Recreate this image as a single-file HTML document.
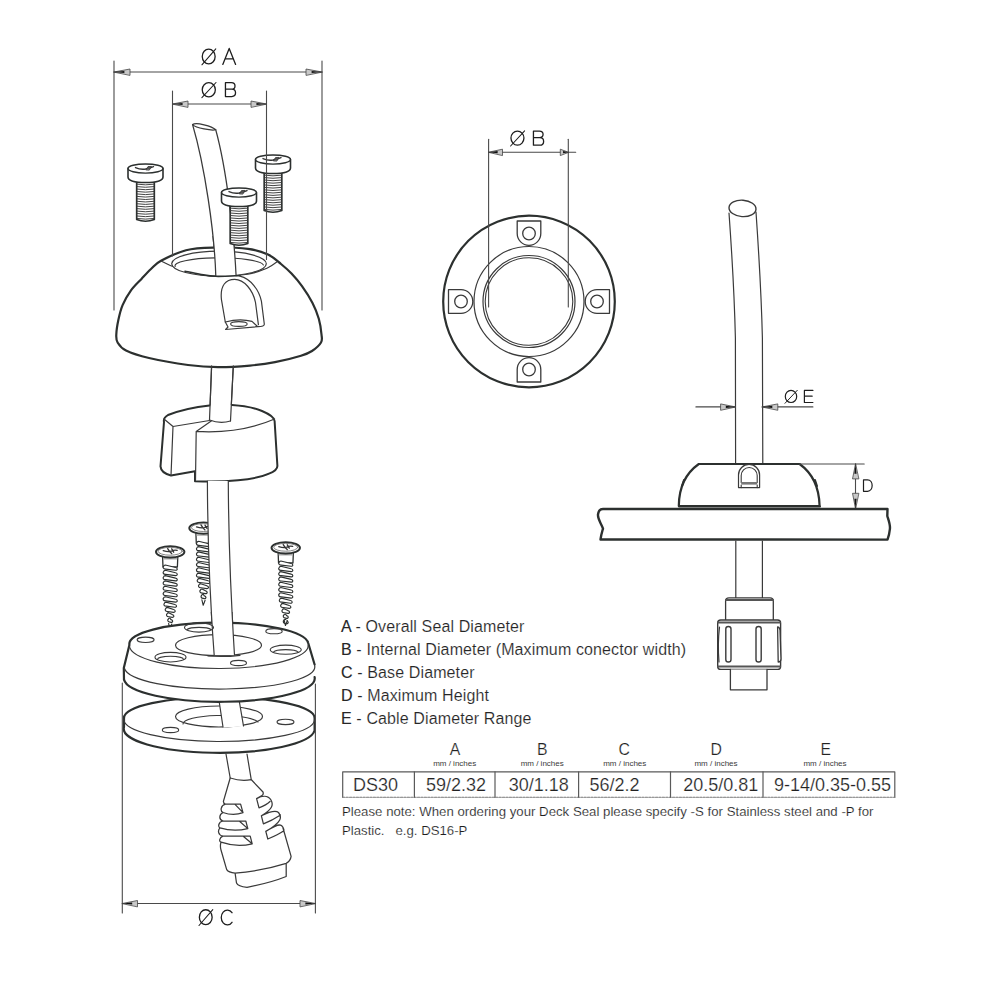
<!DOCTYPE html>
<html><head><meta charset="utf-8"><style>
html,body{margin:0;padding:0;background:#fff;}
svg{display:block;}
text{font-family:"Liberation Sans",sans-serif;}
.lt{stroke:#fff;stroke-width:0.22px;paint-order:normal;}
.lt2{stroke:#fff;stroke-width:0.15px;paint-order:normal;}
</style></head><body>
<svg width="1000" height="1000" viewBox="0 0 1000 1000" stroke-linecap="round" stroke-linejoin="round">
<rect width="1000" height="1000" fill="#fff"/>
<path d="M192.6,124.6 C204.5,165 214.5,232 215.8,276 M215.7,129.7 C226.8,170 234.2,236 236.1,276" fill="none" stroke="#3a3a3a" stroke-width="1.3"/>
<path d="M192.6,124.6 C196,122 212,126 215.7,129.7 C212,131 196,128 192.6,124.6 Z" fill="white" stroke="#3a3a3a" stroke-width="1.3"/>
<path d="M136.7,181 L136.7,219.5 Q145.5,223.0 154.3,219.5 L154.3,181" fill="white" stroke="#2c302f" stroke-width="1.7"/><path d="M137.2,184.2 Q145.5,185.5 153.8,184.2" fill="none" stroke="#3a3a3a" stroke-width="0.95"/><path d="M137.2,186.64 Q145.5,187.95 153.8,186.64" fill="none" stroke="#3a3a3a" stroke-width="0.95"/><path d="M137.2,189.09 Q145.5,190.39 153.8,189.09" fill="none" stroke="#3a3a3a" stroke-width="0.95"/><path d="M137.2,191.54 Q145.5,192.84 153.8,191.54" fill="none" stroke="#3a3a3a" stroke-width="0.95"/><path d="M137.2,193.99 Q145.5,195.29 153.8,193.99" fill="none" stroke="#3a3a3a" stroke-width="0.95"/><path d="M137.2,196.44 Q145.5,197.74 153.8,196.44" fill="none" stroke="#3a3a3a" stroke-width="0.95"/><path d="M137.2,198.89 Q145.5,200.19 153.8,198.89" fill="none" stroke="#3a3a3a" stroke-width="0.95"/><path d="M137.2,201.34 Q145.5,202.64 153.8,201.34" fill="none" stroke="#3a3a3a" stroke-width="0.95"/><path d="M137.2,203.79 Q145.5,205.09 153.8,203.79" fill="none" stroke="#3a3a3a" stroke-width="0.95"/><path d="M137.2,206.24 Q145.5,207.54 153.8,206.24" fill="none" stroke="#3a3a3a" stroke-width="0.95"/><path d="M137.2,208.69 Q145.5,209.99 153.8,208.69" fill="none" stroke="#3a3a3a" stroke-width="0.95"/><path d="M137.2,211.14 Q145.5,212.44 153.8,211.14" fill="none" stroke="#3a3a3a" stroke-width="0.95"/><path d="M137.2,213.59 Q145.5,214.89 153.8,213.59" fill="none" stroke="#3a3a3a" stroke-width="0.95"/><path d="M137.2,216.04 Q145.5,217.34 153.8,216.04" fill="none" stroke="#3a3a3a" stroke-width="0.95"/><path d="M137.2,218.49 Q145.5,219.79 153.8,218.49" fill="none" stroke="#3a3a3a" stroke-width="0.95"/><path d="M128.0,168.5 A17.5,4.5 0 0 1 163.0,168.5 L163.0,177 Q163.0,182.5 145.5,182.5 Q128.0,182.5 128.0,177 Z" fill="white" stroke="#2c302f" stroke-width="1.6"/><path d="M128.0,168.5 A17.5,4.6 0 0 0 163.0,168.5" fill="none" stroke="#2c302f" stroke-width="1.3"/><path d="M135.5,167.6 Q140.5,169.8 145.5,169 Q149.5,168.2 153.5,166.6" fill="none" stroke="#333" stroke-width="1.4"/><path d="M146.0,169.6 L148.0,166.6 L151.5,166.4 L149.5,169.8 Z" fill="#555" stroke="#333" stroke-width="0.8"/>
<path d="M264.2,172 L264.2,210.5 Q273,214.0 281.8,210.5 L281.8,172" fill="white" stroke="#2c302f" stroke-width="1.7"/><path d="M264.7,175.2 Q273,176.5 281.3,175.2" fill="none" stroke="#3a3a3a" stroke-width="0.95"/><path d="M264.7,177.64 Q273,178.95 281.3,177.64" fill="none" stroke="#3a3a3a" stroke-width="0.95"/><path d="M264.7,180.09 Q273,181.39 281.3,180.09" fill="none" stroke="#3a3a3a" stroke-width="0.95"/><path d="M264.7,182.54 Q273,183.84 281.3,182.54" fill="none" stroke="#3a3a3a" stroke-width="0.95"/><path d="M264.7,184.99 Q273,186.29 281.3,184.99" fill="none" stroke="#3a3a3a" stroke-width="0.95"/><path d="M264.7,187.44 Q273,188.74 281.3,187.44" fill="none" stroke="#3a3a3a" stroke-width="0.95"/><path d="M264.7,189.89 Q273,191.19 281.3,189.89" fill="none" stroke="#3a3a3a" stroke-width="0.95"/><path d="M264.7,192.34 Q273,193.64 281.3,192.34" fill="none" stroke="#3a3a3a" stroke-width="0.95"/><path d="M264.7,194.79 Q273,196.09 281.3,194.79" fill="none" stroke="#3a3a3a" stroke-width="0.95"/><path d="M264.7,197.24 Q273,198.54 281.3,197.24" fill="none" stroke="#3a3a3a" stroke-width="0.95"/><path d="M264.7,199.69 Q273,200.99 281.3,199.69" fill="none" stroke="#3a3a3a" stroke-width="0.95"/><path d="M264.7,202.14 Q273,203.44 281.3,202.14" fill="none" stroke="#3a3a3a" stroke-width="0.95"/><path d="M264.7,204.59 Q273,205.89 281.3,204.59" fill="none" stroke="#3a3a3a" stroke-width="0.95"/><path d="M264.7,207.04 Q273,208.34 281.3,207.04" fill="none" stroke="#3a3a3a" stroke-width="0.95"/><path d="M264.7,209.49 Q273,210.79 281.3,209.49" fill="none" stroke="#3a3a3a" stroke-width="0.95"/><path d="M255.5,159.5 A17.5,4.5 0 0 1 290.5,159.5 L290.5,168 Q290.5,173.5 273,173.5 Q255.5,173.5 255.5,168 Z" fill="white" stroke="#2c302f" stroke-width="1.6"/><path d="M255.5,159.5 A17.5,4.6 0 0 0 290.5,159.5" fill="none" stroke="#2c302f" stroke-width="1.3"/><path d="M263,158.6 Q268,160.8 273,160 Q277,159.2 281,157.6" fill="none" stroke="#333" stroke-width="1.4"/><path d="M273.5,160.6 L275.5,157.6 L279,157.4 L277,160.8 Z" fill="#555" stroke="#333" stroke-width="0.8"/>
<path d="M218.00,367.20 C207.67,367.10 199.50,366.53 188.00,365.00 C176.50,363.47 159.33,360.42 149.00,358.00 C138.67,355.58 131.23,353.08 126.00,350.50 C120.77,347.92 119.22,345.17 117.60,342.50 C115.98,339.83 116.17,338.28 116.30,334.50 C116.43,330.72 117.35,324.70 118.40,319.80 C119.45,314.90 120.50,310.00 122.60,305.10 C124.70,300.20 127.85,294.77 131.00,290.40 C134.15,286.03 138.17,282.47 141.50,278.90 C144.83,275.33 147.75,272.02 151.00,269.00 C154.25,265.98 155.17,263.93 161.00,260.80 C166.83,257.67 177.33,252.40 186.00,250.20 C194.67,248.00 202.67,247.82 213.00,247.60 C223.33,247.38 238.83,247.75 248.00,248.90 C257.17,250.05 262.50,251.98 268.00,254.50 C273.50,257.02 277.08,260.82 281.00,264.00 C284.92,267.18 288.00,269.90 291.50,273.60 C295.00,277.30 298.50,281.30 302.00,286.20 C305.50,291.10 309.70,297.57 312.50,303.00 C315.30,308.43 317.30,313.55 318.80,318.80 C320.30,324.05 321.13,330.55 321.50,334.50 C321.87,338.45 322.58,339.75 321.00,342.50 C319.42,345.25 315.33,348.80 312.00,351.00 C308.67,353.20 307.17,353.83 301.00,355.70 C294.83,357.57 283.50,360.55 275.00,362.20 C266.50,363.85 259.50,364.77 250.00,365.60 C240.50,366.43 228.33,367.30 218.00,367.20 Z" fill="white" stroke="#2c302f" stroke-width="2.2"/>
<path d="M161.00,261.00 C163.33,262.08 169.83,265.53 175.00,267.50 C180.17,269.47 185.20,271.33 192.00,272.80 C198.80,274.27 206.47,276.07 215.80,276.30 C225.13,276.53 239.80,275.42 248.00,274.20 C256.20,272.98 260.20,271.03 265.00,269.00 C269.80,266.97 274.83,263.17 276.80,262.00" fill="none" stroke="#3a3a3a" stroke-width="1.2"/>
<ellipse cx="219" cy="263.7" rx="47.3" ry="12.5" fill="white" stroke="#3a3a3a" stroke-width="1.2"/>
<path d="M175.2,266.5 A44.1,7.9 0 0 1 263.4,265" fill="none" stroke="#3a3a3a" stroke-width="1.1"/>
<clipPath id="cclip"><rect x="150" y="236" width="150" height="40.6"/></clipPath>
<g clip-path="url(#cclip)"><path d="M192.6,124.6 C204.5,165 214.5,232 215.8,276 L215.8,280 L236.1,280 L236.1,276 C234.2,236 226.8,170 215.7,129.7 Z" fill="white" stroke="none"/><path d="M192.6,124.6 C204.5,165 214.5,232 215.8,276 M215.7,129.7 C226.8,170 234.2,236 236.1,276" fill="none" stroke="#3a3a3a" stroke-width="1.25"/></g>
<path d="M185.00,271.20 C187.50,271.70 194.87,273.35 200.00,274.20 C205.13,275.05 209.13,276.07 215.80,276.30 C222.47,276.53 235.97,275.72 240.00,275.60" fill="none" stroke="#2c302f" stroke-width="1.6"/>
<path d="M225.3,322 L221.4,299.3 C220,285 226,279.4 234.7,279.4 C244,279.4 253,290 255.5,302.5 L258.4,324.6" fill="none" stroke="#3a3a3a" stroke-width="1.2"/>
<path d="M239.9,276.2 C251,279 259,290 261.4,301.2 L264.3,324 Q264.5,326.6 258,326.6 L225.6,329.5 L228,327 L225.3,322 Q240,318 252,321.4 L257,326" fill="none" stroke="#3a3a3a" stroke-width="1.2"/>
<ellipse cx="238.9" cy="324" rx="8.3" ry="2.4" fill="none" stroke="#3a3a3a" stroke-width="1.1"/>
<path d="M230.2,205 L230.2,243.5 Q239,247.0 247.8,243.5 L247.8,205" fill="white" stroke="#2c302f" stroke-width="1.7"/><path d="M230.7,208.2 Q239,209.5 247.3,208.2" fill="none" stroke="#3a3a3a" stroke-width="0.95"/><path d="M230.7,210.64 Q239,211.95 247.3,210.64" fill="none" stroke="#3a3a3a" stroke-width="0.95"/><path d="M230.7,213.09 Q239,214.39 247.3,213.09" fill="none" stroke="#3a3a3a" stroke-width="0.95"/><path d="M230.7,215.54 Q239,216.84 247.3,215.54" fill="none" stroke="#3a3a3a" stroke-width="0.95"/><path d="M230.7,217.99 Q239,219.29 247.3,217.99" fill="none" stroke="#3a3a3a" stroke-width="0.95"/><path d="M230.7,220.44 Q239,221.74 247.3,220.44" fill="none" stroke="#3a3a3a" stroke-width="0.95"/><path d="M230.7,222.89 Q239,224.19 247.3,222.89" fill="none" stroke="#3a3a3a" stroke-width="0.95"/><path d="M230.7,225.34 Q239,226.64 247.3,225.34" fill="none" stroke="#3a3a3a" stroke-width="0.95"/><path d="M230.7,227.79 Q239,229.09 247.3,227.79" fill="none" stroke="#3a3a3a" stroke-width="0.95"/><path d="M230.7,230.24 Q239,231.54 247.3,230.24" fill="none" stroke="#3a3a3a" stroke-width="0.95"/><path d="M230.7,232.69 Q239,233.99 247.3,232.69" fill="none" stroke="#3a3a3a" stroke-width="0.95"/><path d="M230.7,235.14 Q239,236.44 247.3,235.14" fill="none" stroke="#3a3a3a" stroke-width="0.95"/><path d="M230.7,237.59 Q239,238.89 247.3,237.59" fill="none" stroke="#3a3a3a" stroke-width="0.95"/><path d="M230.7,240.04 Q239,241.34 247.3,240.04" fill="none" stroke="#3a3a3a" stroke-width="0.95"/><path d="M230.7,242.49 Q239,243.79 247.3,242.49" fill="none" stroke="#3a3a3a" stroke-width="0.95"/><path d="M221.5,192.5 A17.5,4.5 0 0 1 256.5,192.5 L256.5,201 Q256.5,206.5 239,206.5 Q221.5,206.5 221.5,201 Z" fill="white" stroke="#2c302f" stroke-width="1.6"/><path d="M221.5,192.5 A17.5,4.6 0 0 0 256.5,192.5" fill="none" stroke="#2c302f" stroke-width="1.3"/><path d="M229,191.6 Q234,193.8 239,193 Q243,192.2 247,190.6" fill="none" stroke="#333" stroke-width="1.4"/><path d="M239.5,193.6 L241.5,190.6 L245,190.4 L243,193.8 Z" fill="#555" stroke="#333" stroke-width="0.8"/>
<path d="M211.6,366 L209.5,420 M233.3,366 L230.5,421" fill="none" stroke="#3a3a3a" stroke-width="1.2"/>
<path d="M164,418 A55.3,13.3 0 0 1 274.6,418 L277.4,467.8 Q272,478 195,480.4 L195,471.3 L171,475.5 Q161,472 160.5,466.4 Z" fill="white" stroke="none"/>
<path d="M209.5,405.5 Q186,408 168,415 Q163,418 164,422 L160.5,466.4 Q161,473 171,475.5 L195,471.3 L195,481.2 C225,482.6 255,480 269,473.6 Q277.4,470.5 277.4,466 L274.6,421 Q274,416 262,411 Q248,405.5 232,405" fill="none" stroke="#2c302f" stroke-width="2"/>
<path d="M211.6,366 L209.5,420 M233.3,366 L230.5,421" fill="none" stroke="#3a3a3a" stroke-width="1.2"/>
<path d="M209.5,420 Q220,424 230.5,421" fill="none" stroke="#3a3a3a" stroke-width="1.2"/>
<path d="M164,419 L173,426.5 L209.5,420.5 M173,426.5 L171,475.5 M211.6,420.8 L196.2,431.4 L195.5,480 M196.2,431.4 Q240,434 274.6,419" fill="none" stroke="#3a3a3a" stroke-width="1.2"/>
<g><path d="M162.6,557 L163.0,567 L177.39,567 L177.79,557" fill="white" stroke="#2c302f" stroke-width="1.3"/><path d="M163.7,558.8 L176.7,558.8" stroke="#aaa" stroke-width="1.4"/><path d="M163.79,566 C162.39,567.3 163.29,569.2 165.6,569.1 L175.6,570.30 C178.0,570.2 177.6,567.80 175.6,567.5 L165.29,565 C164.1,565 163.79,565.4 163.79,566 Z" fill="white" stroke="#2c302f" stroke-width="1.15"/><path d="M163.79,571.3 C162.39,572.59 163.29,574.5 165.6,574.4 L175.6,575.6 C178.0,575.5 177.6,573.1 175.6,572.8 L165.29,570.3 C164.1,570.3 163.79,570.69 163.79,571.3 Z" fill="white" stroke="#2c302f" stroke-width="1.15"/><path d="M163.79,576.59 C162.39,577.89 163.29,579.8 165.6,579.69 L175.6,580.9 C178.0,580.8 177.6,578.4 175.6,578.09 L165.29,575.59 C164.1,575.59 163.79,575.99 163.79,576.59 Z" fill="white" stroke="#2c302f" stroke-width="1.15"/><path d="M163.79,581.89 C162.39,583.19 163.29,585.09 165.6,584.99 L175.6,586.19 C178.0,586.09 177.6,583.69 175.6,583.39 L165.29,580.89 C164.1,580.89 163.79,581.29 163.79,581.89 Z" fill="white" stroke="#2c302f" stroke-width="1.15"/><path d="M163.79,587.19 C162.39,588.49 163.29,590.39 165.6,590.29 L175.6,591.49 C178.0,591.39 177.6,588.99 175.6,588.69 L165.29,586.19 C164.1,586.19 163.79,586.59 163.79,587.19 Z" fill="white" stroke="#2c302f" stroke-width="1.15"/><path d="M163.79,592.49 C162.39,593.79 163.29,595.69 165.6,595.59 L175.6,596.79 C178.0,596.69 177.6,594.29 175.6,593.99 L165.29,591.49 C164.1,591.49 163.79,591.89 163.79,592.49 Z" fill="white" stroke="#2c302f" stroke-width="1.15"/><path d="M163.79,597.79 C162.39,599.09 163.29,600.99 165.6,600.89 L175.6,602.09 C178.0,601.99 177.6,599.59 175.6,599.29 L165.29,596.79 C164.1,596.79 163.79,597.19 163.79,597.79 Z" fill="white" stroke="#2c302f" stroke-width="1.15"/><path d="M164.56,603.09 C163.16,604.39 164.06,606.29 166.36,606.19 L174.83,607.25 C177.23,607.15 176.83,604.75 174.83,604.45 L166.06,602.09 C164.86,602.09 164.56,602.49 164.56,603.09 Z" fill="white" stroke="#2c302f" stroke-width="1.15"/><path d="M165.86,608.39 C164.46,609.69 165.36,611.59 167.66,611.49 L173.53,612.31 C175.93,612.21 175.53,609.81 173.53,609.51 L167.36,607.39 C166.16,607.39 165.86,607.79 165.86,608.39 Z" fill="white" stroke="#2c302f" stroke-width="1.15"/><path d="M167.17,613.69 C165.77,614.99 166.67,616.89 168.97,616.79 L172.22,617.36 C174.62,617.26 174.22,614.86 172.22,614.56 L168.67,612.69 C167.47,612.69 167.17,613.09 167.17,613.69 Z" fill="white" stroke="#2c302f" stroke-width="1.15"/><path d="M168.39,618.99 C166.99,620.29 167.89,622.19 170.2,622.09 L171.0,622.43 C173.4,622.33 173.0,619.93 171.0,619.63 L169.89,617.99 C168.7,617.99 168.39,618.39 168.39,618.99 Z" fill="white" stroke="#2c302f" stroke-width="1.15"/><path d="M168.6,623.5 L169.89,629 L171.79,624" fill="white" stroke="#2c302f" stroke-width="1.1"/><ellipse cx="170.2" cy="551.8" rx="14.25" ry="5.7" fill="white" stroke="#2c302f" stroke-width="1.9"/><ellipse cx="170.2" cy="551.3" rx="12.05" ry="3.9" fill="none" stroke="#666" stroke-width="0.8"/><path d="M163.2,550.6 Q168.2,552.2 171.2,551.2 Q174.2,549.6 177.2,550.4 M167.7,548.6 Q169.2,551.5 171.7,553.6 M171.7,548.8 L173.7,552.2" fill="none" stroke="#333" stroke-width="1.3"/></g>
<g><path d="M195.9,533.3 L196.3,543.3 L210.7,543.3 L211.1,533.3" fill="white" stroke="#2c302f" stroke-width="1.3"/><path d="M197.0,535.09 L210.0,535.09" stroke="#aaa" stroke-width="1.4"/><path d="M197.1,542.3 C195.7,543.59 196.6,545.5 198.9,545.4 L208.9,546.6 C211.3,546.5 210.9,544.1 208.9,543.8 L198.6,541.3 C197.4,541.3 197.1,541.69 197.1,542.3 Z" fill="white" stroke="#2c302f" stroke-width="1.15"/><path d="M197.1,547.59 C195.7,548.89 196.6,550.8 198.9,550.69 L208.9,551.9 C211.3,551.8 210.9,549.4 208.9,549.09 L198.6,546.59 C197.4,546.59 197.1,546.99 197.1,547.59 Z" fill="white" stroke="#2c302f" stroke-width="1.15"/><path d="M197.1,552.89 C195.7,554.19 196.6,556.09 198.9,555.99 L208.9,557.19 C211.3,557.09 210.9,554.69 208.9,554.39 L198.6,551.89 C197.4,551.89 197.1,552.29 197.1,552.89 Z" fill="white" stroke="#2c302f" stroke-width="1.15"/><path d="M197.1,558.19 C195.7,559.49 196.6,561.39 198.9,561.29 L208.9,562.49 C211.3,562.39 210.9,559.99 208.9,559.69 L198.6,557.19 C197.4,557.19 197.1,557.59 197.1,558.19 Z" fill="white" stroke="#2c302f" stroke-width="1.15"/><path d="M197.1,563.49 C195.7,564.79 196.6,566.69 198.9,566.59 L208.9,567.79 C211.3,567.69 210.9,565.29 208.9,564.99 L198.6,562.49 C197.4,562.49 197.1,562.89 197.1,563.49 Z" fill="white" stroke="#2c302f" stroke-width="1.15"/><path d="M197.1,568.79 C195.7,570.09 196.6,571.99 198.9,571.89 L208.9,573.09 C211.3,572.99 210.9,570.59 208.9,570.29 L198.6,567.79 C197.4,567.79 197.1,568.19 197.1,568.79 Z" fill="white" stroke="#2c302f" stroke-width="1.15"/><path d="M197.1,574.09 C195.7,575.39 196.6,577.29 198.9,577.19 L208.9,578.39 C211.3,578.29 210.9,575.89 208.9,575.59 L198.6,573.09 C197.4,573.09 197.1,573.49 197.1,574.09 Z" fill="white" stroke="#2c302f" stroke-width="1.15"/><path d="M197.86,579.39 C196.46,580.69 197.36,582.59 199.66,582.49 L208.13,583.55 C210.53,583.45 210.13,581.05 208.13,580.75 L199.36,578.39 C198.16,578.39 197.86,578.79 197.86,579.39 Z" fill="white" stroke="#2c302f" stroke-width="1.15"/><path d="M199.16,584.69 C197.76,585.99 198.66,587.89 200.96,587.79 L206.83,588.61 C209.23,588.51 208.83,586.11 206.83,585.81 L200.66,583.69 C199.46,583.69 199.16,584.09 199.16,584.69 Z" fill="white" stroke="#2c302f" stroke-width="1.15"/><path d="M200.47,589.99 C199.07,591.29 199.97,593.19 202.27,593.09 L205.52,593.66 C207.92,593.56 207.52,591.16 205.52,590.86 L201.97,588.99 C200.77,588.99 200.47,589.39 200.47,589.99 Z" fill="white" stroke="#2c302f" stroke-width="1.15"/><path d="M201.7,595.29 C200.29,596.59 201.2,598.49 203.5,598.39 L204.3,598.73 C206.70,598.63 206.3,596.23 204.3,595.93 L203.2,594.29 C202.0,594.29 201.7,594.69 201.7,595.29 Z" fill="white" stroke="#2c302f" stroke-width="1.15"/><path d="M201.9,599.8 L203.2,605.3 L205.1,600.3" fill="white" stroke="#2c302f" stroke-width="1.1"/><ellipse cx="203.5" cy="528.09" rx="14.25" ry="5.7" fill="white" stroke="#2c302f" stroke-width="1.9"/><ellipse cx="203.5" cy="527.59" rx="12.05" ry="3.9" fill="none" stroke="#666" stroke-width="0.8"/><path d="M196.5,526.9 Q201.5,528.5 204.5,527.5 Q207.5,525.9 210.5,526.69 M201.0,524.9 Q202.5,527.8 205.0,529.9 M205.0,525.09 L207.0,528.5" fill="none" stroke="#333" stroke-width="1.3"/></g>
<g><path d="M278.15,553 L278.55,563 L292.95,563 L293.35,553" fill="white" stroke="#2c302f" stroke-width="1.3"/><path d="M279.25,554.8 L292.25,554.8" stroke="#aaa" stroke-width="1.4"/><path d="M279.35,562 C277.95,563.3 278.85,565.2 281.15,565.1 L291.15,566.30 C293.54,566.2 293.15,563.80 291.15,563.5 L280.85,561 C279.65,561 279.35,561.4 279.35,562 Z" fill="white" stroke="#2c302f" stroke-width="1.15"/><path d="M279.35,567.3 C277.95,568.59 278.85,570.5 281.15,570.4 L291.15,571.6 C293.54,571.5 293.15,569.1 291.15,568.8 L280.85,566.3 C279.65,566.3 279.35,566.69 279.35,567.3 Z" fill="white" stroke="#2c302f" stroke-width="1.15"/><path d="M279.35,572.59 C277.95,573.89 278.85,575.8 281.15,575.69 L291.15,576.9 C293.54,576.8 293.15,574.4 291.15,574.09 L280.85,571.59 C279.65,571.59 279.35,571.99 279.35,572.59 Z" fill="white" stroke="#2c302f" stroke-width="1.15"/><path d="M279.35,577.89 C277.95,579.19 278.85,581.09 281.15,580.99 L291.15,582.19 C293.54,582.09 293.15,579.69 291.15,579.39 L280.85,576.89 C279.65,576.89 279.35,577.29 279.35,577.89 Z" fill="white" stroke="#2c302f" stroke-width="1.15"/><path d="M279.35,583.19 C277.95,584.49 278.85,586.39 281.15,586.29 L291.15,587.49 C293.54,587.39 293.15,584.99 291.15,584.69 L280.85,582.19 C279.65,582.19 279.35,582.59 279.35,583.19 Z" fill="white" stroke="#2c302f" stroke-width="1.15"/><path d="M279.35,588.49 C277.95,589.79 278.85,591.69 281.15,591.59 L291.15,592.79 C293.54,592.69 293.15,590.29 291.15,589.99 L280.85,587.49 C279.65,587.49 279.35,587.89 279.35,588.49 Z" fill="white" stroke="#2c302f" stroke-width="1.15"/><path d="M279.35,593.79 C277.95,595.09 278.85,596.99 281.15,596.89 L291.15,598.09 C293.54,597.99 293.15,595.59 291.15,595.29 L280.85,592.79 C279.65,592.79 279.35,593.19 279.35,593.79 Z" fill="white" stroke="#2c302f" stroke-width="1.15"/><path d="M279.98,599.09 C278.58,600.39 279.48,602.29 281.78,602.19 L290.51,603.27 C292.91,603.17 292.51,600.77 290.51,600.47 L281.48,598.09 C280.28,598.09 279.98,598.49 279.98,599.09 Z" fill="white" stroke="#2c302f" stroke-width="1.15"/><path d="M281.29,604.39 C279.89,605.69 280.79,607.59 283.09,607.49 L289.20,608.33 C291.60,608.23 291.20,605.83 289.20,605.53 L282.79,603.39 C281.59,603.39 281.29,603.79 281.29,604.39 Z" fill="white" stroke="#2c302f" stroke-width="1.15"/><path d="M282.59,609.69 C281.19,610.99 282.09,612.89 284.39,612.79 L287.90,613.39 C290.30,613.29 289.90,610.89 287.90,610.59 L284.09,608.69 C282.89,608.69 282.59,609.09 282.59,609.69 Z" fill="white" stroke="#2c302f" stroke-width="1.15"/><path d="M283.90,614.99 C282.50,616.29 283.40,618.19 285.70,618.09 L286.59,618.44 C288.99,618.34 288.59,615.94 286.59,615.64 L285.40,613.99 C284.20,613.99 283.90,614.39 283.90,614.99 Z" fill="white" stroke="#2c302f" stroke-width="1.15"/><path d="M283.95,620.29 C282.55,621.59 283.45,623.49 285.75,623.39 L286.55,623.73 C288.95,623.63 288.55,621.23 286.55,620.93 L285.45,619.29 C284.25,619.29 283.95,619.69 283.95,620.29 Z" fill="white" stroke="#2c302f" stroke-width="1.15"/><path d="M284.15,620.0 L285.45,625.5 L287.35,620.5" fill="white" stroke="#2c302f" stroke-width="1.1"/><ellipse cx="285.75" cy="547.8" rx="14.25" ry="5.7" fill="white" stroke="#2c302f" stroke-width="1.9"/><ellipse cx="285.75" cy="547.3" rx="12.05" ry="3.9" fill="none" stroke="#666" stroke-width="0.8"/><path d="M278.75,546.6 Q283.75,548.2 286.75,547.2 Q289.75,545.6 292.75,546.4 M283.25,544.6 Q284.75,547.5 287.25,549.6 M287.25,544.8 L289.25,548.2" fill="none" stroke="#333" stroke-width="1.3"/></g>
<path d="M207.4,481 C207.6,540 210,600 214.2,655.2 L234.5,655.2 C231,600 228.5,540 228.3,481 Z" fill="white" stroke="none"/>
<path d="M207.4,481 C207.6,540 210,600 214.2,655.2 M228.3,481 C228.5,540 231,600 234.5,655.2" fill="none" stroke="#3a3a3a" stroke-width="1.2"/>
<path d="M124,718 A95.3,21 0 0 1 314.6,718 L314.6,730.5 A95.3,24 0 0 1 124,727 Z" fill="white" stroke="none"/>
<path d="M124,727 L124,718 A95.3,21 0 0 1 314.6,718 L314.6,730.5 A95.3,24 0 0 1 124,727" fill="none" stroke="#2c302f" stroke-width="2.2"/>
<path d="M124,719 A95.3,22 0 0 0 314.6,720" fill="none" stroke="#3a3a3a" stroke-width="1.2"/>
<ellipse cx="219" cy="716.5" rx="43.5" ry="10.5" fill="white" stroke="#3a3a3a" stroke-width="1.2"/>
<path d="M183,724 A38,8.5 0 0 1 258,722" fill="none" stroke="#3a3a3a" stroke-width="1.1"/>
<path d="M218.8,699 L223,727.5 L243.5,726.5 L238.9,699 Z" fill="white" stroke="none"/>
<path d="M218.8,699 L223,727 M238.9,699 L243.5,726" fill="none" stroke="#3a3a3a" stroke-width="1.2"/>
<ellipse cx="170.5" cy="730" rx="8.2" ry="2.6" fill="none" stroke="#3a3a3a" stroke-width="1.1"/>
<ellipse cx="285.5" cy="721.9" rx="8.5" ry="2.7" fill="none" stroke="#3a3a3a" stroke-width="1.1"/>
<path d="M129.4,645 A89.5,21.5 0 0 1 308.2,643 L314.6,665 L314.6,677 A95.3,23.5 0 0 1 124,679.5 L123.8,668 Z" fill="white" stroke="none"/>
<path d="M124,679.5 L123.8,668 L129.4,645 A89.5,21.5 0 0 1 308.2,643 L314.6,664.5" fill="none" stroke="#2c302f" stroke-width="2.2"/>
<path d="M314.6,677 A95.3,23.5 0 0 1 124,679.5" fill="none" stroke="#2c302f" stroke-width="2.2"/>
<path d="M129.4,646 A89.4,23 0 0 0 308.2,645" fill="none" stroke="#3a3a3a" stroke-width="1.2"/>
<path d="M124.5,668.5 A95,22 0 0 0 314.6,665.5" fill="none" stroke="#3a3a3a" stroke-width="1.2"/>
<ellipse cx="218.5" cy="645.2" rx="43" ry="10.5" fill="white" stroke="#3a3a3a" stroke-width="1.2"/>
<clipPath id="fclip"><rect x="150" y="612" width="150" height="43.6"/></clipPath>
<g clip-path="url(#fclip)"><path d="M207.4,481 C207.6,540 210,600 214.2,655.2 L234.5,655.2 C231,600 228.5,540 228.3,481 Z" fill="white" stroke="none"/><path d="M207.4,481 C207.6,540 210,600 214.2,655.2 M228.3,481 C228.5,540 231,600 234.5,655.2" fill="none" stroke="#3a3a3a" stroke-width="1.2"/></g>
<path d="M208,656 A43,10.5 0 0 0 240,655.3" fill="none" stroke="#3a3a3a" stroke-width="1.2"/>
<ellipse cx="145.6" cy="639.8" rx="8.5" ry="2.7" fill="none" stroke="#3a3a3a" stroke-width="1.1"/>
<ellipse cx="170.5" cy="657.2" rx="15.5" ry="4.8" fill="none" stroke="#3a3a3a" stroke-width="1.1"/>
<path d="M157.5,659.5 A13,3.2 0 0 1 183.5,659.5" fill="none" stroke="#3a3a3a" stroke-width="1.1"/>
<ellipse cx="199" cy="627.5" rx="14.5" ry="4.6" fill="none" stroke="#3a3a3a" stroke-width="1.1"/>
<path d="M187,629.5 A12.5,3 0 0 1 211,629.5" fill="none" stroke="#3a3a3a" stroke-width="1.1"/>
<ellipse cx="274" cy="631.2" rx="8.2" ry="2.6" fill="none" stroke="#3a3a3a" stroke-width="1.1"/>
<ellipse cx="285.75" cy="649.7" rx="15.5" ry="4.6" fill="none" stroke="#3a3a3a" stroke-width="1.1"/>
<path d="M273.5,652 A12.5,3 0 0 1 298,652" fill="none" stroke="#3a3a3a" stroke-width="1.1"/>
<ellipse cx="238.5" cy="663" rx="8" ry="2.6" fill="none" stroke="#3a3a3a" stroke-width="1.1"/>
<path d="M226,754 L230.2,778 L251.2,779.4 L247,754 Z" fill="white" stroke="none"/>
<path d="M226,754 L230.2,778 M247,754 L251.2,779.4" fill="none" stroke="#3a3a3a" stroke-width="1.2"/>
<path d="M230.2,778 L223.4,801.4 L219,812 L218,830 L220.6,845 L226.7,869.7 L236.5,883 Q238,886 247,887.3 Q270,883 286.2,876 L286.2,863.4 L291.1,856.4 L283.5,831 L281,814 L272,800 L263.4,794.2 L251.2,779.4 Z" fill="white" stroke="none"/>
<path d="M230.2,778 Q241,781.5 251.2,779.6 M230.2,778 L223.4,801.4 Q223.5,803.8 225.4,804.2 M251.4,779.8 L263,792 Q263.8,794.5 262,795.5 L256.6,798.6 M225.4,804.2 L240.6,804.2 L243,812.6 M235,804.4 L243,812.6 M225.4,804.2 C220.5,805.5 220,811 223,812.5 C230,815 238,814.5 243,812.6 M223,812.5 C219,814.5 218.5,819.5 223,821 M223,821 L245.8,821 L247.8,828.6 M239.5,821.2 L247.8,828.6 M223,821 C218,822 218,827 220,827.8 C230,831 240,830.5 247.8,828.6 M220,827.8 C217.5,830.5 218,835 223,836.2 M223,836.2 L250.2,836.2 L252.2,843.8 M243.5,836.4 L252.2,843.8 M223,836.2 C219,837.5 219,842 221,842.2 C232,846 244,845.8 252.2,843.8 M221,842.2 Q219.8,846 221,850 L226.7,869.7 Q228.5,872.5 235.1,873.2 M256.6,798.6 C262,795.5 268,795 271,800 C273.5,804.5 273,809 261.4,815.8 M256.6,798.6 L259,807.8 C264,806 268,803.5 270,801.5 M261.4,815.8 C268,812.5 275,809.5 278.5,812.5 C282,817 282.5,821.5 265.8,831.4 M261.4,815.8 L263.4,823.8 C271,821 276,818 280.5,815 M265.8,831.4 C272,827.5 278,823.5 281.5,825.5 C284.5,828.5 284,831 283.5,831.5 M265.8,831.4 L267.8,839 C275,836 280,833.5 283.5,831 M283,828 L291.1,856.4 Q290.5,861 286.2,863.4 Q262,871 235.1,873.2 M235.1,873.2 L236.5,883 Q238,886.5 247,887.3 Q270,883 286.2,876.5 L286.2,863.4" fill="none" stroke="#3a3a3a" stroke-width="1.25"/>
<line x1="122.3" y1="683" x2="122.3" y2="913" stroke="#4a4a4a" stroke-width="1.1"/>
<line x1="315.4" y1="684" x2="315.4" y2="913" stroke="#4a4a4a" stroke-width="1.1"/>
<line x1="122.3" y1="903.5" x2="315.4" y2="903.5" stroke="#4a4a4a" stroke-width="1.1"/>
<path d="M122.3,903.5 L137.5,900.5 L137.5,906.5 Z" fill="#c8c8c8" stroke="#444" stroke-width="0.8"/>
<path d="M122.3,903.5 L132.18,902.4 L132.18,904.6 Z" fill="#111"/>
<path d="M315.4,903.5 L300,900.5 L300,906.5 Z" fill="#c8c8c8" stroke="#444" stroke-width="0.8"/>
<path d="M315.4,903.5 L305.39,902.4 L305.39,904.6 Z" fill="#111"/>
<ellipse cx="205.75" cy="917.2" rx="6.39" ry="7.44" fill="none" stroke="#1e1e1e" stroke-width="1.3"/>
<line x1="199.0" y1="925.50" x2="212.79" y2="909.6" stroke="#1e1e1e" stroke-width="1.04"/>
<path d="M232.02,912.71 A6.1,7.44 0 1 0 232.02,922.29" fill="none" stroke="#1e1e1e" stroke-width="1.3"/>
<circle cx="529" cy="301.5" r="85.8" fill="none" stroke="#2c302f" stroke-width="2.2"/>
<circle cx="529" cy="301.5" r="55" fill="none" stroke="#3a3a3a" stroke-width="1.2"/>
<circle cx="529" cy="301.5" r="46" fill="none" stroke="#3a3a3a" stroke-width="1.2"/>
<circle cx="529" cy="301.5" r="43.8" fill="none" stroke="#3a3a3a" stroke-width="1.1"/>
<g transform="rotate(0 529 301.5)"><path d="M517.2,221.0 L540.8,221.0 L540.8,233.5 A11.8,11.8 0 0 1 517.2,233.5 Z" fill="none" stroke="#3a3a3a" stroke-width="1.3"/><circle cx="529" cy="233.5" r="6.3" fill="none" stroke="#3a3a3a" stroke-width="1.3"/></g>
<g transform="rotate(90 529 301.5)"><path d="M517.2,221.0 L540.8,221.0 L540.8,233.5 A11.8,11.8 0 0 1 517.2,233.5 Z" fill="none" stroke="#3a3a3a" stroke-width="1.3"/><circle cx="529" cy="233.5" r="6.3" fill="none" stroke="#3a3a3a" stroke-width="1.3"/></g>
<g transform="rotate(180 529 301.5)"><path d="M517.2,221.0 L540.8,221.0 L540.8,233.5 A11.8,11.8 0 0 1 517.2,233.5 Z" fill="none" stroke="#3a3a3a" stroke-width="1.3"/><circle cx="529" cy="233.5" r="6.3" fill="none" stroke="#3a3a3a" stroke-width="1.3"/></g>
<g transform="rotate(270 529 301.5)"><path d="M517.2,221.0 L540.8,221.0 L540.8,233.5 A11.8,11.8 0 0 1 517.2,233.5 Z" fill="none" stroke="#3a3a3a" stroke-width="1.3"/><circle cx="529" cy="233.5" r="6.3" fill="none" stroke="#3a3a3a" stroke-width="1.3"/></g>
<line x1="488.6" y1="139.2" x2="488.6" y2="307" stroke="#4a4a4a" stroke-width="1.1"/>
<line x1="568.3" y1="139.2" x2="568.3" y2="307" stroke="#4a4a4a" stroke-width="1.1"/>
<line x1="488.6" y1="152.2" x2="575.7" y2="152.2" stroke="#4a4a4a" stroke-width="1.1"/>
<path d="M488.6,152.2 L502.5,149.2 L502.5,155.2 Z" fill="#c8c8c8" stroke="#444" stroke-width="0.8"/>
<path d="M488.6,152.2 L497.63,151.1 L497.63,153.29 Z" fill="#111"/>
<path d="M568.3,152.2 L560.3,149.2 L560.3,155.2 Z" fill="#c8c8c8" stroke="#444" stroke-width="0.8"/>
<path d="M568.3,152.2 L563.09,151.1 L563.09,153.29 Z" fill="#111"/>
<ellipse cx="517.45" cy="138.1" rx="6.5" ry="7.05" fill="none" stroke="#1e1e1e" stroke-width="1.3"/>
<line x1="510.6" y1="146.0" x2="524.6" y2="130.9" stroke="#1e1e1e" stroke-width="1.04"/>
<path d="M533.44,145.15 L533.44,131.05 L539.45,131.05 C544.29,131.05 544.29,137.63 539.45,137.63 L533.44,137.63 M539.81,137.63 C544.9,137.63 544.9,145.15 539.81,145.15 L533.44,145.15" fill="none" stroke="#1e1e1e" stroke-width="1.3"/>
<path d="M729,213 C730.8,238 734.2,288 735.4,338 L735.6,464 M756,212 C757.8,238 761.2,288 762.4,338 L762.8,464" fill="none" stroke="#3a3a3a" stroke-width="1.2"/>
<ellipse cx="742.5" cy="208.4" rx="13.5" ry="8.2" transform="rotate(4 742.5 208.4)" fill="white" stroke="#3a3a3a" stroke-width="1.4"/>
<line x1="695.9" y1="406.9" x2="735.5" y2="406.9" stroke="#4a4a4a" stroke-width="1.1"/>
<line x1="762.2" y1="406.9" x2="812.9" y2="406.9" stroke="#4a4a4a" stroke-width="1.1"/>
<path d="M735.5,406.9 L720.6,403.9 L720.6,409.9 Z" fill="#c8c8c8" stroke="#444" stroke-width="0.8"/>
<path d="M735.5,406.9 L725.81,405.79 L725.81,408.0 Z" fill="#111"/>
<path d="M762.2,406.9 L777.8,403.9 L777.8,409.9 Z" fill="#c8c8c8" stroke="#444" stroke-width="0.8"/>
<path d="M762.2,406.9 L772.33,405.79 L772.33,408.0 Z" fill="#111"/>
<ellipse cx="791.0" cy="396.45" rx="5.7" ry="6.05" fill="none" stroke="#1e1e1e" stroke-width="1.2"/>
<line x1="785.0" y1="403.3" x2="797.30" y2="390.3" stroke="#1e1e1e" stroke-width="0.96"/>
<path d="M812.9,390.40 L804.4,390.40 L804.4,402.5 L812.9,402.5 M804.4,396.18 L812.17,396.18" fill="none" stroke="#1e1e1e" stroke-width="1.2"/>
<path d="M678.8,506 Q679,478 698.8,464 L799.6,464 Q819,478 819.6,506 Z" fill="white" stroke="#2c302f" stroke-width="2.2"/>
<path d="M682,486 L684,480 M815,480 L817,486" fill="none" stroke="#2c302f" stroke-width="2"/>
<path d="M738.5,487.6 L738.5,475 A10.55,10.6 0 0 1 759.6,475 L759.6,487.6 Z" fill="white" stroke="#3a3a3a" stroke-width="1.2"/>
<path d="M741.2,482.5 L741.2,475.5 A8,8 0 0 1 757.2,475.5 L757.2,482.5 M741.2,485 L741.2,487.6 M757.2,485 L757.2,487.6" fill="none" stroke="#3a3a3a" stroke-width="1.1"/>
<path d="M741.2,482 L757.2,482 L757.2,484.6 L741.2,484.6 Z" fill="#777"/>
<line x1="799.6" y1="464" x2="864.2" y2="464" stroke="#4a4a4a" stroke-width="1.1"/>
<line x1="855.5" y1="464" x2="855.5" y2="508.6" stroke="#4a4a4a" stroke-width="1.1"/>
<path d="M855.5,464 L852.5,478.9 L858.5,478.9 Z" fill="#c8c8c8" stroke="#444" stroke-width="0.8"/>
<path d="M855.5,464 L854.4,473.68 L856.6,473.68 Z" fill="#111"/>
<path d="M855.5,508.6 L852.5,493.3 L858.5,493.3 Z" fill="#c8c8c8" stroke="#444" stroke-width="0.8"/>
<path d="M855.5,508.6 L854.4,498.65 L856.6,498.65 Z" fill="#111"/>
<path d="M863.5,479.90 L867.53,479.90 C873.69,479.90 873.69,491.3 867.53,491.3 L863.5,491.3 Z" fill="none" stroke="#1e1e1e" stroke-width="1.2"/>
<path d="M603,509 L887.5,509 L887.3,516 C888.5,520 890.5,525 889.9,529 C889.5,533 888.5,537 887.5,539.6 L600.5,539.5 C601,535 602.2,531.5 603,528.6 C601,523 597.5,519 598,514.5 C598.5,510.5 600,509 603,509 Z" fill="white" stroke="#2c302f" stroke-width="2.4"/>
<line x1="679" y1="506.5" x2="820" y2="506.5" stroke="#2c302f" stroke-width="2"/>
<path d="M735.8,541 L735.8,598 M762.4,541 L762.4,598" fill="none" stroke="#3a3a3a" stroke-width="1.2"/>
<path d="M725.6,620 L725.6,601 Q725.6,597.9 729,597.9 L770,597.9 Q773.3,597.9 773.3,601 L773.3,620" fill="white" stroke="#3a3a3a" stroke-width="1.3"/>
<line x1="726" y1="600" x2="773" y2="600" stroke="#555" stroke-width="2"/>
<rect x="717.7" y="620" width="62.9" height="49.4" rx="3" fill="white" stroke="#3a3a3a" stroke-width="1.4"/>
<line x1="718" y1="622.5" x2="780" y2="622.5" stroke="#555" stroke-width="1.8"/>
<line x1="718" y1="666.5" x2="780" y2="666.5" stroke="#555" stroke-width="1.8"/>
<rect x="725.8" y="626.5" width="5.2" height="35.5" rx="2.6" fill="white" stroke="#3a3a3a" stroke-width="1.4"/>
<rect x="756.0" y="626.5" width="5.2" height="35.5" rx="2.6" fill="white" stroke="#3a3a3a" stroke-width="1.4"/>
<path d="M777.6,627 Q779.5,627 780,630 L781,659 Q781,662 778.2,662 Z" fill="white" stroke="#3a3a3a" stroke-width="1.3"/>
<path d="M719.5,627 Q717.5,644 719,662" fill="none" stroke="#3a3a3a" stroke-width="1.2"/>
<path d="M730.4,669.4 L730.4,689.8 L767,689.8 L767,669.4" fill="white" stroke="#3a3a3a" stroke-width="1.3"/>
<line x1="114" y1="61" x2="114" y2="310" stroke="#4a4a4a" stroke-width="1.1"/>
<line x1="322" y1="61" x2="322" y2="310" stroke="#4a4a4a" stroke-width="1.1"/>
<line x1="114" y1="72" x2="322" y2="72" stroke="#4a4a4a" stroke-width="1.1"/>
<path d="M114,72 L130,69.0 L130,75.0 Z" fill="#c8c8c8" stroke="#444" stroke-width="0.8"/>
<path d="M114,72 L124.4,70.9 L124.4,73.1 Z" fill="#111"/>
<path d="M322,72 L306,69.0 L306,75.0 Z" fill="#c8c8c8" stroke="#444" stroke-width="0.8"/>
<path d="M322,72 L311.6,70.9 L311.6,73.1 Z" fill="#111"/>
<ellipse cx="208.7" cy="56.5" rx="6.44" ry="7.44" fill="none" stroke="#1e1e1e" stroke-width="1.3"/>
<line x1="201.9" y1="64.8" x2="215.79" y2="48.9" stroke="#1e1e1e" stroke-width="1.04"/>
<path d="M222.8,64.4 L229.20,48.4 L235.60,64.4 M225.36,58.96 L233.04,58.96" fill="none" stroke="#1e1e1e" stroke-width="1.3"/>
<line x1="172.5" y1="91" x2="172.5" y2="256" stroke="#4a4a4a" stroke-width="1.1"/>
<line x1="266.5" y1="91" x2="266.5" y2="259.5" stroke="#4a4a4a" stroke-width="1.1"/>
<line x1="172.5" y1="104" x2="266.5" y2="104" stroke="#4a4a4a" stroke-width="1.1"/>
<path d="M172.5,104 L188,101.0 L188,107.0 Z" fill="#c8c8c8" stroke="#444" stroke-width="0.8"/>
<path d="M172.5,104 L182.57,102.9 L182.57,105.1 Z" fill="#111"/>
<path d="M266.5,104 L251,101.0 L251,107.0 Z" fill="#c8c8c8" stroke="#444" stroke-width="0.8"/>
<path d="M266.5,104 L256.42,102.9 L256.42,105.1 Z" fill="#111"/>
<ellipse cx="208.79" cy="89.75" rx="6.55" ry="7.1" fill="none" stroke="#1e1e1e" stroke-width="1.3"/>
<line x1="201.9" y1="97.7" x2="216.0" y2="82.5" stroke="#1e1e1e" stroke-width="1.04"/>
<path d="M225.45,96.55 L225.45,82.65 L231.4,82.65 C236.20,82.65 236.20,89.14 231.4,89.14 L225.45,89.14 M231.76,89.14 C236.8,89.14 236.8,96.55 231.76,96.55 L225.45,96.55" fill="none" stroke="#1e1e1e" stroke-width="1.3"/>
<text x="341" y="631.7" font-size="16" letter-spacing="0.12" fill="#262626"><tspan stroke="#262626" stroke-width="0.15">A</tspan><tspan class="lt2"> - Overall Seal Diameter</tspan></text>
<text x="341" y="654.7" font-size="16" letter-spacing="0.12" fill="#262626"><tspan stroke="#262626" stroke-width="0.15">B</tspan><tspan class="lt2"> - Internal Diameter (Maximum conector width)</tspan></text>
<text x="341" y="677.7" font-size="16" letter-spacing="0.12" fill="#262626"><tspan stroke="#262626" stroke-width="0.15">C</tspan><tspan class="lt2"> - Base Diameter</tspan></text>
<text x="341" y="700.7" font-size="16" letter-spacing="0.12" fill="#262626"><tspan stroke="#262626" stroke-width="0.15">D</tspan><tspan class="lt2"> - Maximum Height</tspan></text>
<text x="341" y="723.7" font-size="16" letter-spacing="0.12" fill="#262626"><tspan stroke="#262626" stroke-width="0.15">E</tspan><tspan class="lt2"> - Cable Diameter Range</tspan></text>

<text x="455" y="755.3" font-size="15.8" text-anchor="middle" fill="#222" class="lt">A</text>
<text x="454.7" y="765.8" font-size="8" text-anchor="middle" fill="#3a3a3a">mm / inches</text>
<text x="542.2" y="755.3" font-size="15.8" text-anchor="middle" fill="#222" class="lt">B</text>
<text x="542.2" y="765.8" font-size="8" text-anchor="middle" fill="#3a3a3a">mm / inches</text>
<text x="624.3" y="755.3" font-size="15.8" text-anchor="middle" fill="#222" class="lt">C</text>
<text x="624.75" y="765.8" font-size="8" text-anchor="middle" fill="#3a3a3a">mm / inches</text>
<text x="716.2" y="755.3" font-size="15.8" text-anchor="middle" fill="#222" class="lt">D</text>
<text x="716" y="765.8" font-size="8" text-anchor="middle" fill="#3a3a3a">mm / inches</text>
<text x="825.7" y="755.3" font-size="15.8" text-anchor="middle" fill="#222" class="lt">E</text>
<text x="825" y="765.8" font-size="8" text-anchor="middle" fill="#3a3a3a">mm / inches</text>
<path d="M342.7,797.2 L342.7,771.8 L894.8,771.8 L894.8,797.2" fill="none" stroke="#5a5a5a" stroke-width="1.2"/>
<line x1="342.7" y1="797.2" x2="894.8" y2="797.2" stroke="#777" stroke-width="1.1" stroke-dasharray="2.2,1.2"/>
<line x1="414.4" y1="771.8" x2="414.4" y2="797.2" stroke="#5a5a5a" stroke-width="1.2"/>
<line x1="495" y1="771.8" x2="495" y2="797.2" stroke="#5a5a5a" stroke-width="1.2"/>
<line x1="578.6" y1="771.8" x2="578.6" y2="797.2" stroke="#5a5a5a" stroke-width="1.2"/>
<line x1="670.5" y1="771.8" x2="670.5" y2="797.2" stroke="#5a5a5a" stroke-width="1.2"/>
<line x1="763" y1="771.8" x2="763" y2="797.2" stroke="#5a5a5a" stroke-width="1.2"/>
<text x="375.6" y="791.3" font-size="18" text-anchor="middle" fill="#222" class="lt">DS30</text>
<text x="456.1" y="791.3" font-size="18" text-anchor="middle" fill="#222" class="lt">59/2.32</text>
<text x="538.7" y="791.3" font-size="18" text-anchor="middle" fill="#222" class="lt">30/1.18</text>
<text x="614.4" y="791.3" font-size="18" text-anchor="middle" fill="#222" class="lt">56/2.2</text>
<text x="720.75" y="791.3" font-size="18" text-anchor="middle" fill="#222" class="lt">20.5/0.81</text>
<text x="832.5" y="791.3" font-size="18" text-anchor="middle" fill="#222" class="lt">9-14/0.35-0.55</text>

<text x="342" y="816.3" font-size="13.2" letter-spacing="0.02" fill="#1e1e1e" class="lt2">Please note: When ordering your Deck Seal please specify -S for Stainless steel and -P for</text>
<text x="342" y="834.7" font-size="13.2" fill="#1e1e1e" class="lt2">Plastic.</text>
<text x="395.5" y="834.7" font-size="13.2" fill="#1e1e1e" class="lt2">e.g. DS16-P</text>

</svg>
</body></html>
